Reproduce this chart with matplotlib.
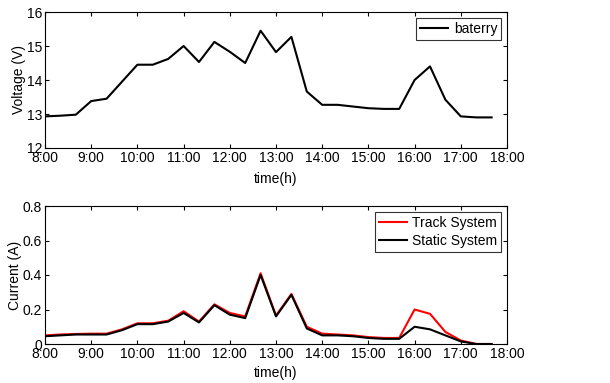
import matplotlib as mpl
import matplotlib.pyplot as plt
import numpy as np

mpl.rcParams['font.family'] = ['Liberation Sans', 'DejaVu Sans']
mpl.rcParams['font.size'] = 10
mpl.rcParams['axes.xmargin'] = 0

times = ['8:00', '8:20', '8:40', '9:00', '9:20', '9:40', '10:00', '10:20', '10:40',
         '11:00', '11:20', '11:40', '12:00', '12:20', '12:40', '13:00', '13:20', '13:40',
         '14:00', '14:20', '14:40', '15:00', '15:20', '15:40', '16:00', '16:20', '16:40',
         '17:00', '17:20', '17:40']
voltage = [12.93, 12.95, 12.98, 13.38, 13.45, 13.95, 14.45, 14.45, 14.62,
           15.0, 14.53, 15.12, 14.83, 14.5, 15.45, 14.82, 15.27, 13.66,
           13.27, 13.27, 13.22, 13.17, 13.15, 13.15, 14.0, 14.4, 13.42,
           12.93, 12.9, 12.9]
track = [0.05, 0.055, 0.058, 0.06, 0.06, 0.085, 0.12, 0.12, 0.135,
         0.19, 0.13, 0.23, 0.18, 0.16, 0.41, 0.165, 0.29, 0.10,
         0.06, 0.055, 0.05, 0.04, 0.035, 0.035, 0.20, 0.175, 0.07,
         0.02, 0.0, 0.0]
static = [0.045, 0.05, 0.055, 0.055, 0.055, 0.08, 0.115, 0.115, 0.13,
          0.18, 0.125, 0.225, 0.17, 0.15, 0.40, 0.16, 0.285, 0.09,
          0.05, 0.05, 0.045, 0.035, 0.03, 0.03, 0.10, 0.085, 0.05,
          0.015, 0.0, 0.0]
hour_ticks = list(range(8, 19))
hour_labels = ['{}:00'.format(h) for h in hour_ticks]


def to_hours(t):
    h, m = t.split(':')
    return int(h) + int(m) / 60


x = np.array([to_hours(t) for t in times])


def style(ax, xpad):
    ax.set_xlim(8, 18)
    ax.set_xticks(hour_ticks)
    ax.set_xticklabels(hour_labels)
    ax.tick_params(direction='in', top=True, right=True, length=3, width=0.8, pad=2)
    for s in ax.spines.values():
        s.set_linewidth(0.8)
    ax.set_xlabel('time(h)', labelpad=xpad)


def add_legend(ax):
    leg = ax.legend(loc='upper right', fancybox=False, edgecolor='k', handlelength=2.0,
                    borderpad=0.3, handletextpad=0.4, borderaxespad=0.4,
                    labelspacing=0.3)
    leg.get_frame().set_linewidth(0.8)


fig = plt.figure(figsize=(6.1, 3.83), dpi=100)
ax1 = fig.add_axes([45 / 610, 1 - 148 / 383, 462 / 610, 136 / 383])
ax2 = fig.add_axes([45 / 610, 1 - 344 / 383, 462 / 610, 138 / 383])

ax1.plot(x, voltage, color='k', lw=1.5, label='baterry')
ax1.set_ylim(12, 16)
ax1.set_yticks([12, 13, 14, 15, 16])
ax1.set_ylabel('Voltage (V)', labelpad=0.5)
style(ax1, 5)
add_legend(ax1)

ax2.plot(x, track, color='red', lw=1.5, label='Track System')
ax2.plot(x, static, color='k', lw=1.5, label='Static System')
ax2.set_ylim(0, 0.8)
ax2.set_yticks([0, 0.2, 0.4, 0.6, 0.8])
ax2.set_yticklabels(['0', '0.2', '0.4', '0.6', '0.8'])
ax2.set_ylabel('Current (A)', labelpad=0.5)
style(ax2, 4)
add_legend(ax2)

fig.savefig('out.png', dpi=100)
